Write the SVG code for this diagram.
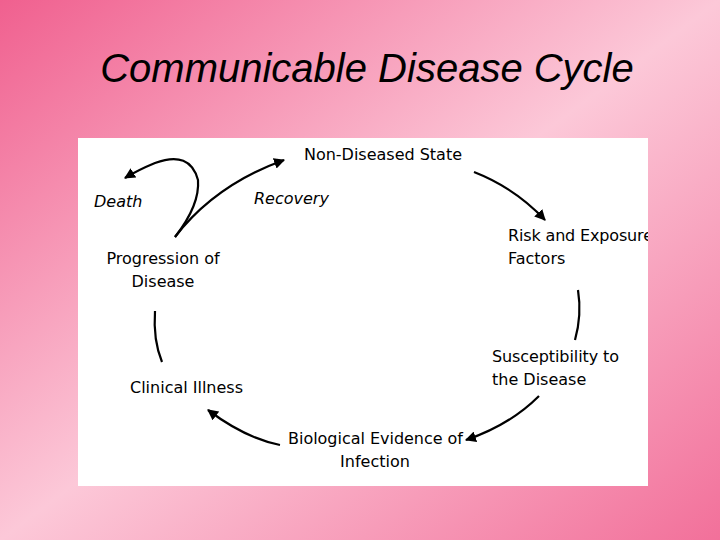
<svg xmlns="http://www.w3.org/2000/svg" width="720" height="540" viewBox="0 0 720 540">
<defs>
<linearGradient id="bg" x1="0" y1="0" x2="1" y2="1">
<stop offset="0" stop-color="#f0608f"/><stop offset="0.5" stop-color="#fcc8d8"/><stop offset="1" stop-color="#f2709a"/>
</linearGradient>
<marker id="ah" viewBox="0 0 10 10" refX="9" refY="5" markerWidth="5" markerHeight="5" orient="auto"><path d="M0,0L10,5L0,10z" fill="#000"/></marker>
<clipPath id="panel"><rect x="78" y="138" width="570" height="348"/></clipPath>
</defs>
<style>
.t{font-family:"DejaVu Sans",Verdana,sans-serif;font-size:16px;fill:#000}
.i{font-style:italic}
.c{fill:none;stroke:#000;stroke-width:2.2}
</style>
<rect width="720" height="540" fill="url(#bg)"/>
<text x="367" y="82" text-anchor="middle" font-family="Liberation Sans,Arial,sans-serif" font-style="italic" font-size="40" fill="#000">Communicable Disease Cycle</text>
<rect x="78" y="138" width="570" height="348" fill="#fff"/>
<g clip-path="url(#panel)">
<g id="n1"><text class="t" x="304" y="160" textLength="158">Non-Diseased State</text></g>
<g id="n2"><text class="t" x="508" y="241" textLength="145">Risk and Exposure</text><text class="t" x="508" y="264">Factors</text></g>
<g id="n3"><text class="t" x="492" y="362" textLength="127">Susceptibility to</text><text class="t" x="492" y="385">the Disease</text></g>
<g id="n4"><text class="t" x="288" y="444" textLength="175">Biological Evidence of</text><text class="t" x="375" y="467" text-anchor="middle">Infection</text></g>
<g id="n5"><text class="t" x="130" y="393" textLength="113">Clinical Illness</text></g>
<g id="n6"><text class="t" x="163" y="264" text-anchor="middle">Progression of</text><text class="t" x="163" y="287" text-anchor="middle">Disease</text></g>
<g id="n7"><text class="t i" x="94" y="207">Death</text></g>
<g id="n8"><text class="t i" x="254" y="204">Recovery</text></g>
<g id="connectors">
<path class="c" d="M474,172 Q515,188 545,220" marker-end="url(#ah)"/>
<path class="c" d="M578,290 Q582,315 575,340"/>
<path class="c" d="M539,396 Q510,425 466,440" marker-end="url(#ah)"/>
<path class="c" d="M280,445 Q245,438 208,410" marker-end="url(#ah)"/>
<path class="c" d="M155,311 Q153,340 162,362"/>
<path class="c" d="M175,237 Q200,205 198,180 Q190,150 155,163 Q138,170 125,178" marker-end="url(#ah)"/>
<path class="c" d="M175,237 Q215,185 284,160" marker-end="url(#ah)"/>
</g>
</g>
</svg>
